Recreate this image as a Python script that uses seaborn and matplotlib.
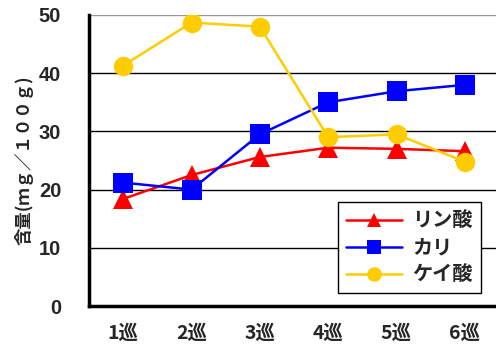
import matplotlib
matplotlib.use("Agg")
import matplotlib.pyplot as plt
import seaborn as sns
import pandas as pd

categories = ["1巡", "2巡", "3巡", "4巡", "5巡", "6巡"]
series_names = ["リン酸", "カリ", "ケイ酸"]
rinsan = [18.4, 22.5, 25.6, 27.2, 27.0, 26.6]
kari = [21.2, 20.0, 29.5, 35.0, 36.9, 38.0]
keisan = [41.3, 48.7, 48.0, 29.0, 29.5, 24.8]
yticks = [0, 10, 20, 30, 40, 50]
ylabel = "含量(ｍｇ／１００ｇ)"

colors = {"リン酸": "#FF0000", "カリ": "#0000FF", "ケイ酸": "#FFCC00"}
markers = {"リン酸": "^", "カリ": "s", "ケイ酸": "o"}

df = pd.concat([
    pd.DataFrame({"巡": categories, "値": vals, "系列": name})
    for name, vals in zip(series_names, [rinsan, kari, keisan])
])

sns.set_style("white")
plt.rcParams["font.family"] = ["Liberation Sans", "Noto Sans CJK JP", "DejaVu Sans"]
plt.rcParams["font.weight"] = "bold"
cjk = ["Noto Sans CJK JP", "DejaVu Sans"]

fig = plt.figure(figsize=(4.96, 3.49), dpi=100)
ax = fig.add_axes([89 / 496, 43 / 349, 410 / 496, 291 / 349])

sns.lineplot(data=df, x="巡", y="値", hue="系列", style="系列",
             hue_order=series_names, style_order=series_names,
             palette=colors, markers=markers, dashes=False,
             markersize=14, markeredgewidth=0, linewidth=1.8,
             ax=ax, sort=False, legend=True)

ax.set_xlim(-0.5, 5.5)
ax.set_ylim(0, 50)
ax.set_yticks(yticks)
ax.set_xticks(range(len(categories)))
ax.set_xticklabels(categories)
ax.set_xticks([i + 0.5 for i in range(len(categories))], minor=True)
ax.tick_params(axis="x", which="major", length=0, pad=13, labelsize=14)
ax.tick_params(axis="x", which="minor", direction="in", length=7, width=2)
ax.tick_params(axis="y", direction="in", length=8, width=2, pad=20, labelsize=14.5)
for lab in ax.get_xticklabels():
    lab.set_fontweight("bold")
    lab.set_family(cjk)
for lab in ax.get_yticklabels():
    lab.set_fontweight("bold")

ax.yaxis.grid(True, color="black", linewidth=1)
gl = ax.get_ygridlines()
gl[-1].set_color("#999999")
ax.set_axisbelow(True)

for s in ["left", "bottom"]:
    ax.spines[s].set_linewidth(2.5)
    ax.spines[s].set_color("black")
ax.spines["top"].set_visible(False)
ax.spines["right"].set_visible(False)

ax.set_xlabel("")
ax.set_ylabel(ylabel, fontsize=12.5, fontweight="bold", labelpad=4, family=cjk)

leg = ax.legend(loc="lower left", bbox_to_anchor=(0.607, 0.045), borderaxespad=0,
                frameon=True, fancybox=False, shadow=False, edgecolor="black",
                framealpha=1, markerscale=0.75, handlelength=2.8,
                prop={"family": cjk, "weight": "bold", "size": 14.5},
                labelspacing=0.3, borderpad=0.4, handletextpad=0.5)
leg.get_frame().set_linewidth(1)

fig.savefig("out.png", dpi=100)
